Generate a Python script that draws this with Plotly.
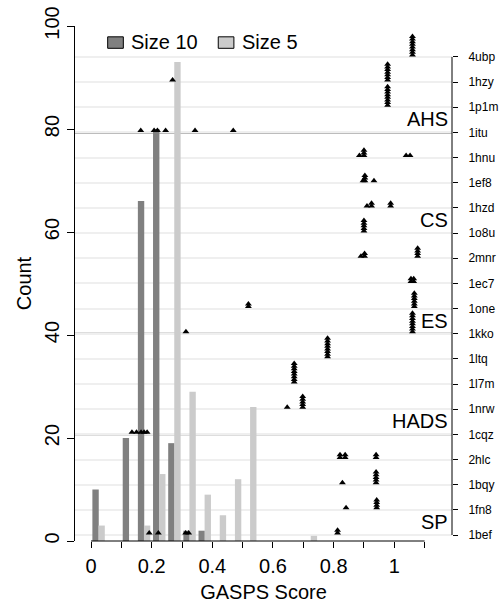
import plotly.graph_objects as go

# ---------------- data ----------------
bin_centers = [0.025, 0.075, 0.125, 0.175, 0.225, 0.275, 0.325, 0.375,
               0.425, 0.475, 0.525, 0.575, 0.625, 0.675, 0.725]
size10_counts = [10, 0, 20, 66, 80, 19, 2, 2, 0, 0, 0, 0, 0, 0, 0]
size5_counts = [3, 0, 0, 3, 13, 93, 29, 9, 5, 12, 26, 0, 0, 0, 1]

# structures, top to bottom on the right axis
structures = ["4ubp", "1hzy", "1p1m", "1itu", "1hnu", "1ef8", "1hzd", "1o8u",
              "2mnr", "1ec7", "1one", "1kko", "1ltq", "1l7m", "1nrw", "1cqz",
              "2hlc", "1bqy", "1fn8", "1bef"]

# GASPS scores of each structure (repeated values stack up)
scores = {
    "4ubp": [1.06] * 8,
    "1hzy": [0.978] * 7 + [0.269],
    "1p1m": [0.978] * 8,
    "1itu": [0.164, 0.208, 0.219, 0.246, 0.343, 0.469],
    "1hnu": [0.885, 0.9, 0.9, 0.9, 1.039, 1.052],
    "1ef8": [0.897, 0.903, 0.903, 0.903, 0.933],
    "1hzd": [0.91, 0.925, 0.925, 0.988, 0.988],
    "1o8u": [0.9] * 5,
    "2mnr": [0.89, 0.902, 0.902] + [1.077] * 4,
    "1ec7": [1.055, 1.055, 1.064, 1.064],
    "1one": [0.519, 0.519] + [1.066] * 6,
    "1kko": [0.313] + [1.06] * 8,
    "1ltq": [0.78] * 8,
    "1l7m": [0.67] * 8,
    "1nrw": [0.647] + [0.698] * 5,
    "1cqz": [0.135, 0.15, 0.165, 0.175, 0.185],
    "2hlc": [0.821, 0.821, 0.838, 0.838, 0.94, 0.94],
    "1bqy": [0.829] + [0.94] * 5,
    "1fn8": [0.841] + [0.942] * 4,
    "1bef": [0.192, 0.222, 0.312, 0.322, 0.813, 0.813],
}

groups = ["AHS", "CS", "ES", "HADS", "SP"]
group_bottoms = ["1itu", "1o8u", "1kko", "1cqz", "1bef"]

x_ticks = [0, 0.1, 0.2, 0.3, 0.4, 0.5, 0.6, 0.7, 0.8, 0.9, 1.0, 1.1]
x_ticktext = ["0", "", "0.2", "", "0.4", "", "0.6", "", "0.8", "", "1", ""]
y_ticks = [0, 20, 40, 60, 80, 100]

# ---------------- style ----------------
FONT = "Liberation Sans, Arial, Helvetica, sans-serif"
DARK = "#808080"
LIGHT = "#cbcbcb"
n = len(structures)
row_index = {s: n - 1 - i for i, s in enumerate(structures)}
STACK_BASE = 0.08
STACK_STEP = 0.105

fig = go.Figure()
fig.add_trace(go.Bar(x=bin_centers, y=size10_counts, name="Size 10",
                     marker=dict(color=DARK, line=dict(width=0)),
                     width=0.021, offset=-0.0205, showlegend=False))
fig.add_trace(go.Bar(x=bin_centers, y=size5_counts, name="Size 5",
                     marker=dict(color=LIGHT, line=dict(width=0)),
                     width=0.021, offset=-0.0005, showlegend=False))

px_, py_ = [], []
for s in structures:
    seen = {}
    for v in scores[s]:
        lvl = seen.get(v, 0)
        seen[v] = lvl + 1
        px_.append(v)
        py_.append(row_index[s] + STACK_BASE + lvl * STACK_STEP)
fig.add_trace(go.Scatter(x=px_, y=py_, yaxis="y2", mode="markers",
                         marker=dict(symbol="triangle-up", size=6, color="black"),
                         showlegend=False))

shapes = []
# group separator lines
for g in group_bottoms:
    shapes.append(dict(type="line", xref="paper", x0=0, x1=1, yref="y2",
                       y0=row_index[g], y1=row_index[g],
                       line=dict(color="#7a7a7a", width=2), layer="below"))
# bottom axis line (0 to 1.1)
shapes.append(dict(type="line", xref="x", x0=x_ticks[0], x1=x_ticks[-1],
                   yref="paper", y0=0, y1=0, line=dict(color="black", width=1)))
# right axis line
shapes.append(dict(type="line", xref="paper", x0=1, x1=1, yref="y2",
                   y0=0, y1=n - 1, line=dict(color="black", width=1)))

# manual legend
legend_items = [("Size 10", DARK, 0.0867), ("Size 5", LIGHT, 0.380)]
annotations = []
for name, col, x0 in legend_items:
    shapes.append(dict(type="rect", xref="paper", yref="paper",
                       x0=x0, x1=x0 + 0.0415, y0=0.9567, y1=0.979,
                       fillcolor=col, line=dict(color="black", width=1)))
    annotations.append(dict(text=name, xref="paper", yref="paper",
                            x=x0 + 0.0565, y=0.968, xanchor="left",
                            yanchor="middle", showarrow=False,
                            font=dict(size=20, color="black", family=FONT)))

for g, b in zip(groups, group_bottoms):
    annotations.append(dict(text=g, xref="paper", x=1, xanchor="right",
                            xshift=-2, yref="y2", y=row_index[b],
                            yanchor="bottom", showarrow=False,
                            font=dict(size=20, color="black", family=FONT)))

fig.update_layout(
    width=504, height=603,
    margin=dict(l=75, r=52, t=26, b=62),
    plot_bgcolor="white", paper_bgcolor="white",
    font=dict(family=FONT, size=20, color="black"),
    barmode="overlay",
    shapes=shapes, annotations=annotations,
    xaxis=dict(range=[-0.0528, 1.1903], tickvals=x_ticks, ticktext=x_ticktext,
               ticks="outside", ticklen=6, tickcolor="black", showline=False,
               showgrid=False, zeroline=False, automargin=False,
               ticklabelstandoff=1,
               title=dict(text="GASPS Score", standoff=18, font=dict(size=20))),
    yaxis=dict(range=[0, 100], tickvals=y_ticks, ticks="outside", ticklen=7,
               tickcolor="black", showline=True, linecolor="black", linewidth=1,
               tickangle=-90, showgrid=False, zeroline=False, automargin=False,
               title=dict(text="Count", standoff=4, font=dict(size=20))),
    yaxis2=dict(overlaying="y", side="right", range=[-0.2385, 20.23],
                tickvals=[row_index[s] for s in structures], ticktext=structures,
                ticks="outside", ticklen=5, tickcolor="black",
                tickfont=dict(size=12), ticklabelstandoff=8, automargin=False,
                showgrid=True, gridcolor="#efefef", gridwidth=2,
                zeroline=False, showline=False),
)

fig.write_html("out.html")
